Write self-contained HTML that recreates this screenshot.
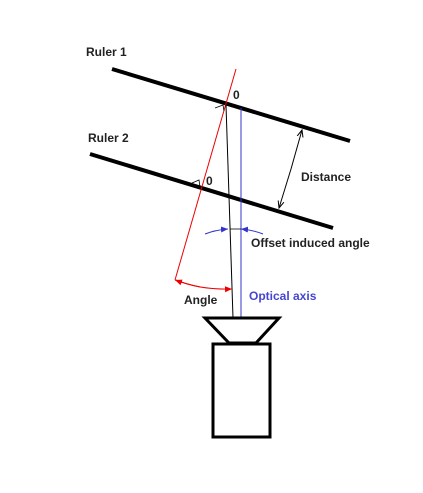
<!DOCTYPE html>
<html><head><meta charset="utf-8"><style>
html,body{margin:0;padding:0;background:#fff;}
svg{display:block;}
text{font-family:"Liberation Sans",sans-serif;font-weight:bold;font-size:12px;fill:#222;}
</style></head><body>
<svg width="423" height="493" viewBox="0 0 423 493">
<defs>
<marker id="ab" markerWidth="8" markerHeight="8" refX="7" refY="4" orient="auto"><path d="M0,1 L7,4 L0,7" fill="none" stroke="#000" stroke-width="1"/></marker>
<marker id="ar" markerWidth="8" markerHeight="8" refX="7" refY="4" orient="auto"><path d="M0,1 L7,4 L0,7 z" fill="#e00"/></marker>
<marker id="au" markerWidth="8" markerHeight="8" refX="7" refY="4" orient="auto"><path d="M0,1 L7,4 L0,7 z" fill="#33c"/></marker>
</defs>
<line x1="112" y1="69" x2="350" y2="141" stroke="#000" stroke-width="4"/>
<line x1="90" y1="154" x2="333" y2="228" stroke="#000" stroke-width="4"/>
<text x="86" y="56">Ruler 1</text>
<text x="88" y="142">Ruler 2</text>
<text x="233" y="99">0</text>
<text x="206" y="185">0</text>
<line x1="236" y1="69" x2="175" y2="280" stroke="#e00" stroke-width="1"/>
<line x1="226" y1="105" x2="233" y2="318" stroke="#000" stroke-width="1"/>
<line x1="241" y1="108" x2="241" y2="318" stroke="#33c" stroke-width="1"/>
<path d="M215,108 L223,105 L224,111" fill="none" stroke="#000" stroke-width="0.8"/>
<path d="M192,183 L199,180 L200,187" fill="none" stroke="#000" stroke-width="0.8"/>
<line x1="291" y1="169" x2="302" y2="130" stroke="#000" stroke-width="1" marker-end="url(#ab)"/>
<line x1="291" y1="169" x2="279" y2="208" stroke="#000" stroke-width="1" marker-end="url(#ab)"/>
<text x="301" y="181">Distance</text>
<path d="M205,234 Q215,230 228,229" fill="none" stroke="#33c" stroke-width="1" marker-end="url(#au)"/>
<path d="M263,234 Q253,230 241,229" fill="none" stroke="#33c" stroke-width="1" marker-end="url(#au)"/>
<line x1="230" y1="229" x2="241" y2="229" stroke="#000" stroke-width="0.8"/>
<text x="251" y="247">Offset induced angle</text>
<path d="M176,280 Q200,290 232,289" fill="none" stroke="#e00" stroke-width="1" marker-end="url(#ar)"/>
<path d="M200,287 Q186,284 175,280" fill="none" stroke="#e00" stroke-width="1" marker-end="url(#ar)"/>
<text x="184" y="304">Angle</text>
<text x="249" y="300" style="fill:#4545d0">Optical axis</text>
<path d="M205,318 L279,318 L256,343 L229,343 Z" fill="#fff" stroke="#000" stroke-width="3" stroke-linejoin="miter"/>
<rect x="213" y="344" width="57" height="93" fill="#fff" stroke="#000" stroke-width="3"/>
</svg>
</body></html>
